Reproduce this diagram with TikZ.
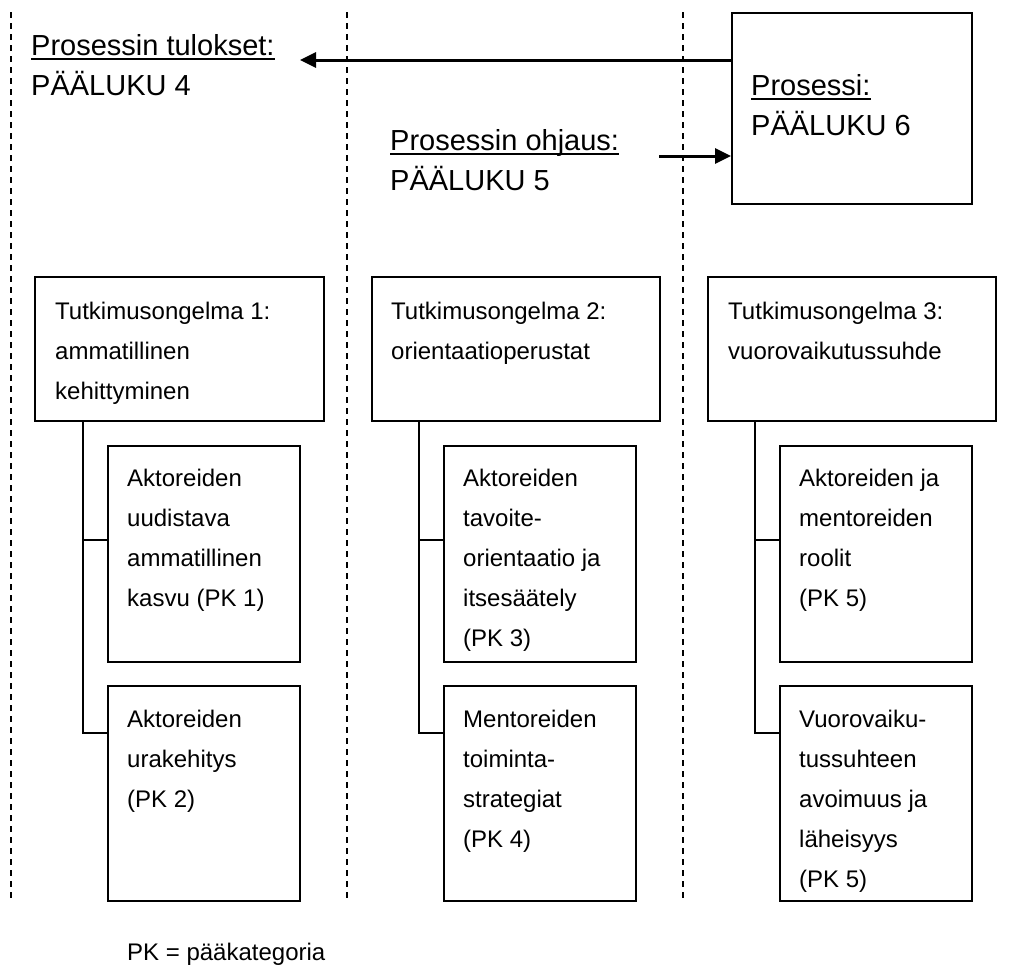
\documentclass[tikz,border=0pt]{standalone}
\usepackage{fontspec}
\setmainfont{Liberation Sans}
\usetikzlibrary{arrows.meta}

% place a column of text lines, one node per line: name, x, first baseline, line step, lines
\newcommand\linesat[5]{%
  \foreach \ln [count=\k] in {#5} {%
    \node[txt] (#1-\k) at (#2, {#3+#4*(\k-1)}) {\ln};
  }%
}

\begin{document}
\begin{tikzpicture}[x=1pt,y=-1pt,
  box/.style={draw, line width=1.7pt, inner sep=0pt, anchor=north west},
  txt/.style={font=\fontsize{24}{28}\selectfont, inner sep=0pt, anchor=base west},
  big/.style={font=\fontsize{29}{34}\selectfont, inner sep=0pt, anchor=base west},
  divider/.style={dash pattern=on 6pt off 5pt, line width=1.3pt},
  link/.style={line width=1.3pt},
  uline/.style={line width=2pt},
  flow/.style={line width=3pt, -{Triangle[length=16pt,width=15pt]}}]

\useasboundingbox (0,0) rectangle (1009,970);

% column dividers
\foreach \x [count=\i] in {11,347,683} {
  \coordinate (dtop\i) at (\x,12);
  \coordinate (dbot\i) at (\x,900);
  \draw[divider] (dtop\i) -- (dbot\i);
}

% process box and the chapter labels
\node[box, minimum width=240pt, minimum height=191pt] (proc) at (731,12) {};
\node[big] (proc-t) at (751,95) {Prosessi:};
\node[big] (proc-c) at (751,135) {PÄÄLUKU 6};
\draw[uline] ([yshift=-4pt]proc-t.base west) -- ([yshift=-4pt]proc-t.base east);

\node[big] (res-t) at (31,55) {Prosessin tulokset:};
\node[big] (res-c) at (31,95) {PÄÄLUKU 4};
\draw[uline] ([yshift=-4pt]res-t.base west) -- ([yshift=-4pt]res-t.base east);

\node[big] (ctl-t) at (390,150) {Prosessin ohjaus:};
\node[big] (ctl-c) at (390,190) {PÄÄLUKU 5};
\draw[uline] ([yshift=-4pt]ctl-t.base west) -- ([yshift=-4pt]ctl-t.base east);

% arrows
\coordinate (restip) at (300,60);
\draw[flow] (proc.west |- restip) -- (restip);
\coordinate (ctlstart) at (659,156);
\draw[flow] (ctlstart) -- (proc.west |- ctlstart);

% research problem boxes
\node[box, minimum width=289pt, minimum height=144pt] (t1) at (34,276) {};
\node[box, minimum width=288pt, minimum height=144pt] (t2) at (371,276) {};
\node[box, minimum width=288pt, minimum height=144pt] (t3) at (707,276) {};
\linesat{t1l}{55}{319}{40}{{Tutkimusongelma 1:},ammatillinen,kehittyminen}
\linesat{t2l}{391}{319}{40}{{Tutkimusongelma 2:},orientaatioperustat}
\linesat{t3l}{728}{319}{40}{{Tutkimusongelma 3:},vuorovaikutussuhde}

% main category boxes
\foreach \x [count=\i] in {107,443,779} {
  \node[box, minimum width=192pt, minimum height=216pt] (s\i1) at (\x,445) {};
  \node[box, minimum width=192pt, minimum height=215pt] (s\i2) at (\x,685) {};
}
\linesat{s11l}{127}{486}{40.2}{Aktoreiden,uudistava,ammatillinen,{kasvu (PK 1)}}
\linesat{s12l}{127}{727}{40.2}{Aktoreiden,urakehitys,{(PK 2)}}
\linesat{s21l}{463}{486}{40.2}{Aktoreiden,tavoite-,{orientaatio ja},itsesäätely,{(PK 3)}}
\linesat{s22l}{463}{727}{40.2}{Mentoreiden,toiminta-,strategiat,{(PK 4)}}
\linesat{s31l}{799}{486}{40.2}{{Aktoreiden ja},mentoreiden,roolit,{(PK 5)}}
\linesat{s32l}{799}{727}{40.2}{Vuorovaiku-,tussuhteen,{avoimuus ja},läheisyys,{(PK 5)}}

% tree connectors from each problem to its categories
\foreach \i/\x in {1/83,2/419,3/755} {
  \coordinate (b\i1) at (\x,540);
  \coordinate (b\i2) at (\x,733);
  \draw[link] (t\i.south -| b\i1) -- (b\i2) -- (b\i2 -| s\i2.west);
  \draw[link] (b\i1) -- (b\i1 -| s\i1.west);
}

% legend
\node[txt] (legend) at (127,960) {PK = pääkategoria};

\end{tikzpicture}
\end{document}
